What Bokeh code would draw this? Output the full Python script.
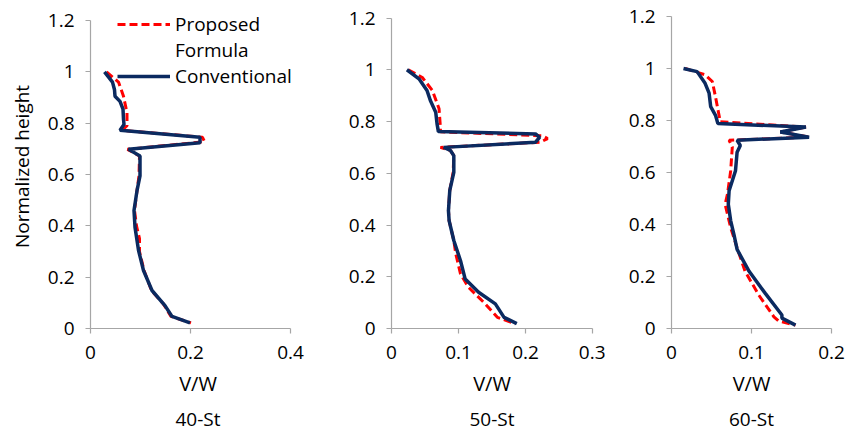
from bokeh.plotting import figure
from bokeh.layouts import row
from bokeh.models import (Range1d, FixedTicker, CustomJSTickFormatter, Legend,
                          LegendItem, Title)
from bokeh.embed import file_html
from bokeh.resources import INLINE

# ---------------- data ----------------
y_ticks = [0, 0.2, 0.4, 0.6, 0.8, 1.0, 1.2]
panel_titles = ["40-St", "50-St", "60-St"]
x_max = [0.4, 0.3, 0.2]
x_ticks_40 = [0, 0.2, 0.4]
x_ticks_50 = [0, 0.1, 0.2, 0.3]
x_ticks_60 = [0, 0.1, 0.2]

# 40-St
conv40_y = [1.0, 0.96, 0.93, 0.905, 0.885, 0.855, 0.815, 0.795, 0.772, 0.745, 0.724,
            0.698, 0.672, 0.595, 0.537, 0.46, 0.395, 0.305, 0.226, 0.148, 0.089, 0.047, 0.022]
conv40_x = [0.028, 0.044, 0.048, 0.049, 0.059, 0.065, 0.066, 0.067, 0.059, 0.219, 0.219,
            0.076, 0.099, 0.099, 0.093, 0.087, 0.089, 0.096, 0.106, 0.123, 0.149, 0.163, 0.199]
prop40_y = [1.0, 0.96, 0.905, 0.84, 0.79, 0.772, 0.745, 0.728, 0.698, 0.672, 0.595,
            0.537, 0.46, 0.4, 0.35, 0.3, 0.226, 0.148, 0.095, 0.047, 0.022]
prop40_x = [0.032, 0.056, 0.066, 0.073, 0.073, 0.063, 0.224, 0.228, 0.074, 0.098, 0.097,
            0.093, 0.088, 0.092, 0.098, 0.098, 0.107, 0.122, 0.146, 0.161, 0.201]

# 50-St
conv50_y = [1.0, 0.965, 0.92, 0.881, 0.836, 0.791, 0.761, 0.752, 0.739, 0.72, 0.70, 0.688,
            0.668, 0.603, 0.534, 0.456, 0.417, 0.34, 0.262, 0.191, 0.14, 0.095, 0.043, 0.019]
conv50_x = [0.023, 0.041, 0.053, 0.058, 0.066, 0.068, 0.070, 0.215, 0.221, 0.215, 0.078, 0.088,
            0.093, 0.093, 0.087, 0.085, 0.086, 0.093, 0.103, 0.110, 0.130, 0.155, 0.168, 0.187]
prop50_y = [1.0, 0.97, 0.92, 0.849, 0.778, 0.76, 0.745, 0.734, 0.72, 0.70, 0.688, 0.668,
            0.603, 0.534, 0.456, 0.417, 0.34, 0.288, 0.211, 0.159, 0.095, 0.043, 0.018]
prop50_x = [0.025, 0.046, 0.061, 0.071, 0.073, 0.073, 0.225, 0.233, 0.222, 0.073, 0.088, 0.093,
            0.092, 0.087, 0.085, 0.086, 0.093, 0.096, 0.103, 0.115, 0.140, 0.158, 0.185]

# 60-St
conv60_y = [1.0, 0.988, 0.943, 0.905, 0.853, 0.82, 0.788, 0.775, 0.756, 0.736, 0.724, 0.704,
            0.678, 0.607, 0.53, 0.478, 0.414, 0.362, 0.304, 0.22, 0.136, 0.052, 0.04, 0.013]
conv60_x = [0.015, 0.032, 0.042, 0.047, 0.049, 0.055, 0.058, 0.168, 0.136, 0.172, 0.082, 0.086,
            0.082, 0.080, 0.072, 0.071, 0.074, 0.078, 0.082, 0.097, 0.117, 0.138, 0.138, 0.155]
prop60_y = [1.0, 0.976, 0.95, 0.891, 0.827, 0.795, 0.775, 0.756, 0.736, 0.724, 0.698,
            0.607, 0.517, 0.478, 0.388, 0.31, 0.22, 0.129, 0.045, 0.029, 0.013]
prop60_x = [0.017, 0.042, 0.051, 0.055, 0.059, 0.061, 0.168, 0.136, 0.172, 0.072, 0.076,
            0.074, 0.070, 0.067, 0.074, 0.082, 0.092, 0.109, 0.128, 0.134, 0.155]

# ---------------- style ----------------
FONT = "Open Sans"
BLUE = "#0B2A60"
RED = "#FF0000"
AXIS = "#A6A6A6"
FS = "19px"
TOP = 4
BOTTOM = 108
FRAME_H = 436 - TOP - BOTTOM

fmt_code = "return String(Number(tick.toFixed(3)));"


def make_panel(title, xmax, xticks, cx, cy, px, py, width, left, right,
               y12_px, frame_xmax=None, ylabel=None, legend=False):
    # y12_px: pixel distance from y=0 to y=1.2 in this panel
    frame_ymax = 1.2 * FRAME_H / y12_px
    p = figure(width=width, height=436, output_backend="svg", toolbar_location=None,
               x_range=Range1d(0, frame_xmax or xmax), y_range=Range1d(0, frame_ymax),
               title=None,
               min_border_left=left, min_border_right=right,
               min_border_top=TOP, min_border_bottom=BOTTOM)
    p.grid.visible = False
    p.outline_line_color = None
    p.background_fill_color = "white"
    p.border_fill_color = "white"

    for ax in (p.xaxis[0], p.yaxis[0]):
        ax.axis_line_color = AXIS
        ax.axis_line_width = 1.2
        ax.major_tick_line_color = AXIS
        ax.major_tick_line_width = 1.2
        ax.major_tick_out = 5
        ax.major_tick_in = 0
        ax.minor_tick_line_color = None
        ax.major_label_text_font = FONT
        ax.major_label_text_font_size = FS
        ax.major_label_text_color = "black"
        ax.axis_label_text_font = FONT
        ax.axis_label_text_font_size = FS
        ax.axis_label_text_font_style = "normal"
        ax.axis_label_text_color = "black"
        ax.formatter = CustomJSTickFormatter(code=fmt_code)

    p.xaxis.ticker = FixedTicker(ticks=xticks)
    p.yaxis.ticker = FixedTicker(ticks=y_ticks)
    p.xaxis.bounds = (0, xmax)
    p.yaxis.bounds = (0, 1.2)
    p.xaxis.major_label_standoff = 12
    p.yaxis.major_label_standoff = 11
    p.xaxis.axis_label = "V/W"
    p.xaxis.axis_label_text_font_size = "20px"
    p.xaxis.axis_label_standoff = 8
    if ylabel:
        p.yaxis.axis_label = ylabel
        p.yaxis.axis_label_standoff = 10

    r_prop = p.line(px, py, line_color=RED, line_width=3, line_dash="8 4")
    r_conv = p.line(cx, cy, line_color=BLUE, line_width=3.5)

    p.add_layout(Title(text=title, align="center", text_font=FONT, text_font_size=FS,
                       text_font_style="normal", text_color="black", standoff=8), "below")

    if legend:
        r_dummy = p.line([], [], line_alpha=0)
        leg = Legend(items=[LegendItem(label="Proposed", renderers=[r_prop]),
                            LegendItem(label="Formula", renderers=[r_dummy]),
                            LegendItem(label="Conventional", renderers=[r_conv])],
                     location=(27, 239), glyph_width=53, label_standoff=5,
                     padding=0, spacing=-2, margin=0,
                     border_line_alpha=0, background_fill_alpha=0,
                     label_text_font=FONT, label_text_font_size=FS,
                     label_text_color="black")
        p.add_layout(leg)
    return p


# frames extend above 1.2 (and to the right in panel 1) so the legend is not clipped;
# axes are bounded to the data limits
p1 = make_panel(panel_titles[0], x_max[0], x_ticks_40, conv40_x, conv40_y, prop40_x, prop40_y,
                width=305, left=90, right=0, y12_px=308, frame_xmax=0.43,
                ylabel="Normalized height", legend=True)
p2 = make_panel(panel_titles[1], x_max[1], x_ticks_50, conv50_x, conv50_y, prop50_x, prop50_y,
                width=300, left=86, right=13, y12_px=310.5)
p3 = make_panel(panel_titles[2], x_max[2], x_ticks_60, conv60_x, conv60_y, prop60_x, prop60_y,
                width=243, left=66, right=17, y12_px=312)

layout = row(p1, p2, p3, spacing=0)
open("out.html", "w").write(file_html(layout, INLINE))
